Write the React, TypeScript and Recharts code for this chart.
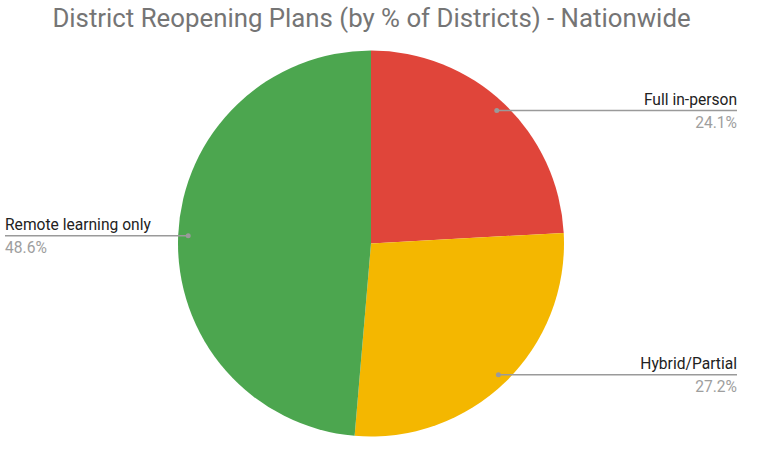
import React from "react";
import { PieChart, Pie, Cell } from "recharts";

const categories = ["Full in-person", "Hybrid/Partial", "Remote learning only"];
const values = [24.1, 27.2, 48.6];
const percentLabels = ["24.1%", "27.2%", "48.6%"];
const colors = ["#E0453A", "#F4B700", "#4CA64F"];

const data = categories.map((name, i) => ({ name, value: values[i], pct: percentLabels[i] }));

const RADIAN = Math.PI / 180;

const renderLabel = (props: any) => {
  const { cx, cy, midAngle, outerRadius, index } = props;
  const r = outerRadius * 0.948;
  const x = cx + r * Math.cos(-midAngle * RADIAN);
  const y = cy + r * Math.sin(-midAngle * RADIAN);
  const right = x > cx;
  const endX = right ? 737 : 5;
  const anchor = right ? "end" : "start";
  return (
    <g key={`lbl-${index}`}>
      <line x1={x} y1={y} x2={endX} y2={y} stroke="#9a9a9a" strokeWidth={1.5} />
      <circle cx={x} cy={y} r={2.5} fill="#9a9a9a" />
      <text x={endX} y={y - 5.5} textAnchor={anchor} fontFamily="Roboto" fontSize={15.6} fill="#222222">
        {data[index].name}
      </text>
      <text x={endX} y={y + 17.5} textAnchor={anchor} fontFamily="Roboto" fontSize={15.6} fill="#9e9e9e">
        {data[index].pct}
      </text>
    </g>
  );
};

export default function App() {
  return (
    <div style={{ position: "absolute", left: 0, top: 0, width: 760, height: 452, background: "#fff" }}>
      <div
        style={{
          position: "absolute",
          left: 0,
          top: 2,
          width: 743,
          textAlign: "center",
          fontFamily: "Roboto",
          fontSize: 25.8,
          color: "#757575",
          lineHeight: "32px",
        }}
      >
        District Reopening Plans (by % of Districts) - Nationwide
      </div>
      <PieChart width={760} height={452} margin={{ top: 0, right: 0, bottom: 0, left: 0 }}>
        <Pie
          data={data}
          dataKey="value"
          nameKey="name"
          cx={371}
          cy={243.5}
          outerRadius={193}
          startAngle={90}
          endAngle={-270}
          stroke="none"
          label={renderLabel}
          labelLine={false}
          isAnimationActive={false}
        >
          {data.map((d, i) => (
            <Cell key={d.name} fill={colors[i]} />
          ))}
        </Pie>
      </PieChart>
    </div>
  );
}
